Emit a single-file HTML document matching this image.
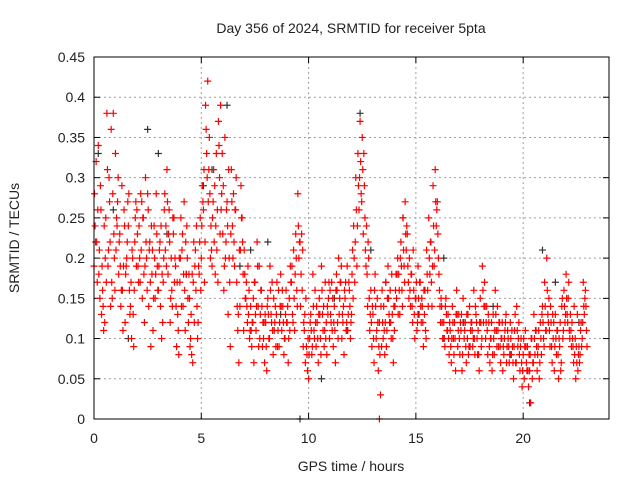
<!DOCTYPE html>
<html><head><meta charset="utf-8"><style>
html,body{margin:0;padding:0;background:#fff;}
svg text{font-family:"Liberation Sans",sans-serif;font-size:14px;fill:#222;}
</style></head>
<body>
<svg id="chart" width="640" height="480" xmlns="http://www.w3.org/2000/svg">
<rect width="640" height="480" fill="#fff"/>
<text x="351" y="33" text-anchor="middle">Day 356 of 2024, SRMTID for receiver 5pta</text>
<text transform="translate(19,238) rotate(-90)" text-anchor="middle">SRMTID / TECUs</text>
<text x="351" y="471" text-anchor="middle">GPS time / hours</text>
<g id="grid"></g>
<g id="ticks"></g>
<g id="marks"></g>
<rect x="94" y="57" width="515" height="362" fill="none" stroke="#000" stroke-width="1"/>
</svg>
<script>
const xTicks=[0,5,10,15,20];
const yTicks=[0,0.05,0.1,0.15,0.2,0.25,0.3,0.35,0.4,0.45];
const yTickLabels=["0","0.05","0.1","0.15","0.2","0.25","0.3","0.35","0.4","0.45"];
const redT=[0.0,0.1,0.2,0.3,0.4,0.5,0.6,0.7,0.8,0.9,1.0,1.1,1.2,1.3,1.4,1.5,1.6,1.7,1.8,1.9,2.0,2.1,2.2,2.3,2.4,2.5,2.6,2.7,2.8,2.9,3.0,3.1,3.2,3.3,3.4,3.5,3.6,3.7,3.8,3.9,4.0,4.1,4.2,4.3,4.4,4.5,4.6,4.7,4.8,4.9,5.0,5.1,5.2,5.3,5.4,5.5,5.6,5.7,5.8,5.9,6.0,6.1,6.2,6.3,6.4,6.5,6.6,6.7,6.8,6.9,7.0,7.1,7.2,7.3,7.4,7.5,7.6,7.7,7.8,7.9,8.0,8.1,8.2,8.3,8.4,8.5,8.6,8.7,8.8,8.9,9.0,9.1,9.2,9.3,9.4,9.5,9.6,9.7,9.8,9.9,10.0,10.1,10.2,10.3,10.4,10.5,10.6,10.7,10.8,10.9,11.0,11.1,11.2,11.3,11.4,11.5,11.6,11.7,11.8,11.9,12.0,12.1,12.2,12.3,12.4,12.5,12.6,12.7,12.8,12.9,13.0,13.1,13.2,13.3,13.4,13.5,13.6,13.7,13.8,13.9,14.0,14.1,14.2,14.3,14.4,14.5,14.6,14.7,14.8,14.9,15.0,15.1,15.2,15.3,15.4,15.5,15.6,15.7,15.8,15.9,16.0,16.1,16.2,16.3,16.4,16.5,16.6,16.7,16.8,16.9,17.0,17.1,17.2,17.3,17.4,17.5,17.6,17.7,17.8,17.9,18.0,18.1,18.2,18.3,18.4,18.5,18.6,18.7,18.8,18.9,19.0,19.1,19.2,19.3,19.4,19.5,19.6,19.7,19.8,19.9,20.0,20.1,20.2,20.3,20.4,20.5,20.6,20.7,20.8,20.9,21.0,21.1,21.2,21.3,21.4,21.5,21.6,21.7,21.8,21.9,22.0,22.1,22.2,22.3,22.4,22.5,22.6,22.7,22.8,22.9];
const redA=[.19,.32,.34,.29,.16,.12,.38,.30,.36,.38,.33,.27,.23,.29,.26,.19,.24,.14,.20,.22,.26,.24,.21,.25,.30,.28,.22,.18,.24,.28,.16,.14,.12,.28,.31,.26,.20,.23,.19,.13,.17,.21,.27,.18,.12,.10,.07,.19,.14,.18,.20,.26,.39,.42,.28,.19,.22,.33,.37,.39,.23,.35,.27,.20,.31,.28,.26,.11,.14,.25,.21,.17,.13,.14,.12,.17,.22,.19,.16,.10,.12,.15,.19,.17,.11,.13,.16,.18,.14,.10,.12,.15,.17,.21,.23,.28,.22,.16,.11,.09,.05,.13,.18,.16,.12,.15,.19,.14,.10,.13,.16,.11,.14,.18,.20,.17,.12,.15,.19,.16,.13,.24,.30,.33,.37,.35,.29,.24,.20,.16,.13,.18,.15,.12,.09,.14,.17,.19,.16,.13,.11,.15,.18,.22,.25,.27,.23,.20,.18,.16,.15,.19,.17,.14,.13,.21,.25,.22,.29,.31,.27,.16,.14,.12,.15,.13,.11,.14,.12,.16,.13,.11,.15,.12,.10,.14,.12,.16,.13,.11,.15,.19,.17,.14,.12,.10,.13,.16,.14,.12,.10,.08,.13,.10,.12,.09,.11,.14,.12,.10,.08,.11,.09,.06,.10,.13,.11,.09,.12,.14,.17,.20,.15,.12,.10,.13,.11,.09,.14,.16,.18,.15,.13,.10,.08,.07,.09,.12,.17,.16];
const redB=[.24,.17,.21,.13,.11,.25,.19,.22,.15,.20,.25,.18,.14,.11,.12,.22,.16,.10,.09,.27,.19,.17,.15,.12,.20,.14,.09,.11,.15,.19,.21,.10,.20,.24,.18,.12,.14,.17,.09,.08,.25,.14,.11,.20,.15,.08,.22,.16,.12,.25,.29,.17,.33,.31,.24,.27,.18,.26,.30,.28,.16,.22,.13,.09,.24,.19,.17,.07,.29,.18,.15,.12,.10,.09,.07,.11,.14,.13,.09,.07,.06,.10,.13,.08,.14,.09,.12,.11,.08,.16,.07,.19,.13,.11,.16,.20,.18,.09,.07,.06,.10,.08,.11,.09,.07,.10,.13,.11,.08,.17,.12,.09,.07,.12,.15,.10,.08,.11,.13,.10,.21,.17,.19,.26,.28,.23,.21,.14,.11,.09,.07,.10,.06,.03,.12,.08,.11,.13,.10,.07,.16,.20,.13,.16,.19,.21,.17,.14,.12,.10,.11,.13,.12,.09,.11,.16,.18,.14,.19,.24,.20,.12,.10,.09,.11,.08,.07,.10,.06,.09,.08,.06,.10,.07,.08,.11,.09,.08,.10,.06,.09,.12,.10,.08,.07,.06,.08,.11,.09,.07,.06,.11,.09,.07,.08,.05,.07,.09,.06,.04,.05,.07,.04,.02,.07,.08,.06,.05,.08,.10,.11,.13,.09,.07,.06,.08,.05,.06,.10,.12,.13,.11,.09,.07,.05,.06,.08,.10,.13,.11];
const redC=[.28,.22,.18,.26,.14,.20,.31,.27,.17,.23,.21,.30,.19,.16,.24,.20,.28,.17,.13,.25,.23,.20,.27,.18,.22,.26,.17,.21,.20,.23,.19,.24,.17,.21,.27,.22,.16,.25,.14,.11,.20,.23,.16,.24,.18,.13,.17,.21,.10,.22,.24,.31,.36,.27,.20,.25,.29,.21,.34,.26,.29,.20,.24,.17,.27,.22,.30,.13,.21,.22,.18,.14,.16,.11,.15,.13,.19,.10,.14,.12,.09,.13,.16,.11,.12,.17,.09,.14,.12,.13,.14,.11,.19,.15,.20,.24,.14,.21,.13,.08,.08,.11,.14,.12,.10,.13,.16,.09,.12,.15,.13,.15,.11,.16,.13,.19,.14,.17,.11,.14,.18,.20,.26,.29,.32,.31,.25,.18,.15,.12,.10,.14,.12,.08,.16,.11,.09,.15,.12,.10,.14,.18,.16,.19,.21,.23,.19,.16,.14,.13,.17,.15,.14,.12,.16,.18,.20,.17,.24,.27,.23,.14,.12,.10,.13,.10,.09,.12,.10,.13,.10,.13,.12,.09,.13,.09,.11,.10,.12,.08,.12,.16,.14,.11,.09,.12,.10,.13,.11,.09,.12,.10,.07,.09,.10,.07,.13,.11,.08,.07,.10,.09,.06,.08,.05,.10,.09,.11,.10,.12,.14,.16,.11,.09,.12,.10,.08,.12,.15,.14,.15,.17,.11,.09,.10,.13,.07,.09,.14,.14];
const redD=[.22,.26,.15,.19,.24,.17,.21,.14,.28,.16,.24,.22,.16,.19,.18,.27,.13,.21,.16,.19,.17,.28,.25,.19,.16,.21,.24,.15,.18,.16,.22,.18,.26,.19,.23,.15,.25,.20,.17,.20,.14,.18,.22,.15,.09,.18,.12,.24,.19,.16,.27,.22,.30,.35,.21,.31,.24,.17,.23,.33,.19,.26,.31,.23,.20,.26,.14,.21,.25,.11,.15,.19,.11,.12,.17,.14,.09,.16,.12,.13,.14,.10,.12,.15,.09,.11,.14,.16,.10,.12,.10,.17,.12,.18,.14,.22,.23,.12,.15,.10,.12,.09,.10,.14,.13,.08,.11,.17,.14,.10,.17,.12,.16,.10,.17,.13,.16,.12,.17,.12,.15,.22,.24,.30,.27,.33,.19,.22,.13,.14,.16,.11,.09,.14,.10,.12,.15,.12,.18,.14,.18,.13,.20,.14,.17,.24,.15,.18,.21,.15,.12,.17,.15,.16,.10,.14,.22,.19,.21,.26,.18,.15,.10,.14,.11,.12,.10,.08,.13,.11,.12,.08,.11,.13,.09,.12,.10,.14,.08,.12,.10,.14,.12,.13,.10,.08,.11,.09,.12,.10,.09,.12,.11,.08,.11,.09,.07,.10,.09,.06,.09,.06,.08,.10,.07,.11,.08,.07,.13,.09,.11,.12,.14,.13,.09,.11,.10,.07,.11,.13,.12,.10,.12,.14,.09,.08,.11,.12,.15,.09];
const blackT=[0.2,0.9,1.6,2.5,3.0,3.4,4.3,5.1,5.5,6.2,6.8,7.3,8.1,8.7,9.6,10.6,11.2,11.8,12.4,12.9,13.6,14.4,15.1,16.3,17.2,18.6,19.4,20.3,20.9,21.5,22.6];
const blackV=[.33,.26,.10,.36,.33,.23,.18,.29,.31,.39,.19,.21,.22,.13,0,.05,.15,.11,.38,.21,.17,.25,.13,.20,.12,.14,.08,.02,.21,.17,.12];
const extraRedT=[13.3];
const extraRedV=[0];
const NS='http://www.w3.org/2000/svg';
const X0=94,X1=609,Y0=419,Y1=57,XMAX=24,YMAX=0.45;
function xs(t){return X0+(X1-X0)*t/XMAX;}
function ys(v){return Y0-(Y0-Y1)*v/YMAX;}
const grid=document.getElementById('grid'),ticks=document.getElementById('ticks'),marks=document.getElementById('marks');
function mk(tag,attrs,parent){const e=document.createElementNS(NS,tag);for(const k in attrs)e.setAttribute(k,attrs[k]);parent.appendChild(e);return e;}
xTicks.forEach(t=>{
  const x=xs(t);
  if(t>0){const g=mk('line',{x1:x,x2:x,y1:Y1,y2:Y0,stroke:'#a0a0a0','stroke-dasharray':'2,3'},grid);
  
  }
  const k=mk('line',{x1:x,x2:x,y1:Y0,y2:Y0-6,stroke:'#000'},ticks);
  
  
  const k2=mk('line',{x1:x,x2:x,y1:Y1,y2:Y1+6,stroke:'#000'},ticks);
  
  
  const l=mk('text',{x:x,y:Y0+24,'text-anchor':'middle'},ticks);l.textContent=String(t);
  
  
});
yTicks.forEach((v,i)=>{
  const y=ys(v);
  if(v>0&&v<YMAX){const g=mk('line',{x1:X0,x2:X1,y1:y,y2:y,stroke:'#a0a0a0','stroke-dasharray':'2,3'},grid);
  
  }
  const k=mk('line',{x1:X0,x2:X0+6,y1:y,y2:y,stroke:'#000'},ticks);
  
  
  const k2=mk('line',{x1:X1,x2:X1-6,y1:y,y2:y,stroke:'#000'},ticks);
  
  
  const l=mk('text',{x:X0-9,y:y+5,'text-anchor':'end'},ticks);l.textContent=yTickLabels[i];
  
  
});
function plus(t,v,color,name){
  const x=xs(t),y=ys(v);
  const p=mk('path',{d:`M${x-3.5},${y}h7M${x},${y-3.5}v7`,stroke:color,'stroke-width':1.2,fill:'none'},marks);
  
  
}
blackT.forEach((t,i)=>plus(t,blackV[i],'#333','black-point'));
redT.forEach((t,i)=>{
  plus(t,redA[i],'#f00','red-point');
  plus(t+0.025,redC[i],'#f00','red-point');
  plus(t+0.05,redB[i],'#f00','red-point');
  plus(t+0.075,redD[i],'#f00','red-point');
});
extraRedT.forEach((t,i)=>plus(t,extraRedV[i],'#f00','red-point'));
</script>
</body></html>
